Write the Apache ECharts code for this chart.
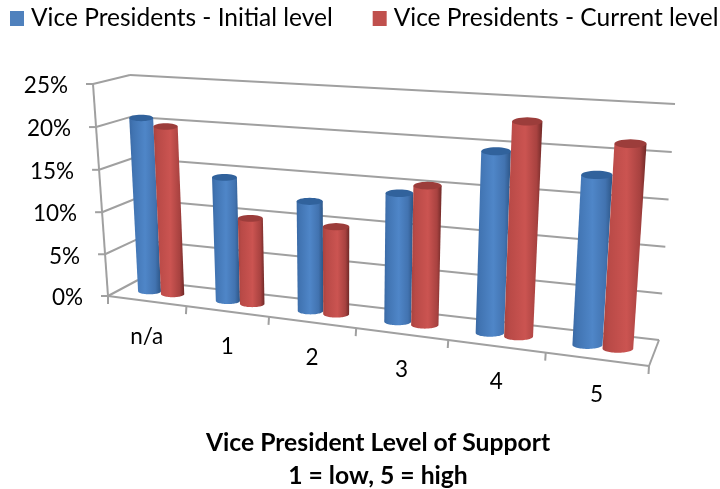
<!DOCTYPE html>
<html>
<head>
<meta charset="utf-8">
<style>html,body{margin:0;padding:0;background:#fff}#chart{width:720px;height:489px}</style>
<script src="https://cdn.jsdelivr.net/npm/echarts@6/dist/echarts.min.js"></script>
</head>
<body>
<div id="chart"></div>
<script>
// Survey results, percent of respondents per support level
const categories = ['n/a', '1', '2', '3', '4', '5'];
const initialLevel = [20.7, 14.5, 12.6, 14.4, 19.8, 18.1];
const currentLevel = [19.9, 10, 10, 15.5, 23.2, 21.6];
const valueTicks = [0, 5, 10, 15, 20, 25];
const valueTickLabels = ['0%', '5%', '10%', '15%', '20%', '25%'];

const FONT = 'Lato, "Open Sans", sans-serif';
const GRID_COLOR = '#a0a0a0';

// Box corners on screen: bottom/top, left/right, back/front
const box = {
  bLB: [138, 280], tLB: [130, 75], bRB: [659, 340], tRB: [675, 104],
  bLF: [108, 296], tLF: [93, 84], bRF: [649, 366], tRF: [666, 122]
};
const PERSP_U = 1.18, PERSP_V = 1.02, BAR_DEPTH = 0.5;
const bend = (t, k) => t / (k - (k - 1) * t);
const mix = (a, b, t) => [a[0] + (b[0] - a[0]) * t, a[1] + (b[1] - a[1]) * t];

// u: along categories, v: up the value axis, w: 0 at the back wall, 1 at the front
function project(u, v, w) {
  const s = bend(u, PERSP_U), h = bend(v, PERSP_V);
  const left = mix(mix(box.bLB, box.bLF, w), mix(box.tLB, box.tLF, w), h);
  const right = mix(mix(box.bRB, box.bRF, w), mix(box.tRB, box.tRF, w), h);
  return mix(left, right, s);
}
// Plot coordinates from the hidden axes are normalised, then projected into the box
function toUV(pt, cs) {
  return [(pt[0] - cs.x) / cs.width, (cs.y + cs.height - pt[1]) / cs.height];
}
const lineEl = (a, b) => ({
  type: 'line', shape: { x1: a[0], y1: a[1], x2: b[0], y2: b[1] },
  style: { stroke: GRID_COLOR, lineWidth: 2 }
});
const textEl = (text, x, y, align) => ({
  type: 'text', x, y,
  style: { text, fill: '#000', font: '22.5px ' + FONT, align, verticalAlign: 'middle' }
});

function renderValueFrame(params, api) {
  const cs = params.coordSys;
  const val = api.value(0);
  const v = toUV(api.coord([0, val]), cs)[1];
  const front = project(0, v, 1), back = project(0, v, 0), right = project(1, v, 0);
  return { type: 'group', children: [
    lineEl(back, right), lineEl(front, back),
    lineEl(front, [front[0] - 7, front[1]]),
    textEl(valueTickLabels[params.dataIndex], front[0] - 25, front[1] + 2, 'right')
  ] };
}

function renderCategoryFrame(params, api) {
  const cs = params.coordSys;
  const i = api.value(0);
  const centre = toUV(api.coord([i, 0]), cs)[0];
  const band = api.size([1, 0])[0] / cs.width;
  const edge = project(centre + band / 2, 0, 1);
  const kids = [textEl(categories[i], project(centre, 0, 1)[0], project(centre, 0, 1)[1] + 35.5, 'center')];
  kids.push(lineEl(edge, [edge[0] - 0.5, edge[1] + 8]));
  if (i === 0) {
    const start = project(0, 0, 1);
    kids.push(lineEl(start, [start[0], start[1] + 8]));
    kids.push(lineEl(start, project(0, 1, 1)));
    kids.push(lineEl(start, project(1, 0, 1)));
    kids.push(lineEl(project(1, 0, 0), project(1, 0, 1)));
  }
  return { type: 'group', children: kids };
}

// Level ellipse through the mean height of its two edge points
function ellipsePoints(l, r, from, to) {
  const cx = (l[0] + r[0]) / 2, cy = (l[1] + r[1]) / 2, ax = (r[0] - l[0]) / 2;
  const ry = ax * 0.27, pts = [];
  for (let k = 0; k <= 32; k++) {
    const a = from + (to - from) * k / 32;
    pts.push([cx + ax * Math.cos(a), cy + ry * Math.sin(a)]);
  }
  return pts;
}

// One cylinder; side is -1 for the left bar of a cluster, +1 for the right
function cylinderRenderer(side, stops, capColor) {
  return function (params, api) {
    const cs = params.coordSys;
    const i = api.value(0), val = api.value(1);
    const base = toUV(api.coord([i, 0]), cs), top = toUV(api.coord([i, val]), cs);
    const band = api.size([1, 0])[0] / cs.width;
    const u = base[0] + side * band * 0.15, r = band * 0.15;
    const bl = project(u - r, base[1], BAR_DEPTH), br = project(u + r, base[1], BAR_DEPTH);
    const tl = project(u - r, top[1], BAR_DEPTH), tr = project(u + r, top[1], BAR_DEPTH);
    const cap = ellipsePoints(tl, tr, 0, Math.PI * 2);
    // outline: top edge left to right, then the lower half of the base ellipse
    const body = [cap[16], cap[0]].concat(ellipsePoints(bl, br, 0, Math.PI));
    return { type: 'group', children: [
      { type: 'polygon', shape: { points: body },
        style: { fill: { type: 'linear', x: 0, y: 0, x2: 1, y2: 0, colorStops: stops } } },
      { type: 'polygon', shape: { points: cap }, style: { fill: capColor } }
    ] };
  };
}

const blueStops = [
  { offset: 0, color: '#3a69a4' }, { offset: 0.12, color: '#4174b2' },
  { offset: 0.5, color: '#4f86c8' }, { offset: 0.82, color: '#4273b0' }, { offset: 1, color: '#2c5586' }
];
const redStops = [
  { offset: 0, color: '#a8433f' }, { offset: 0.14, color: '#b94a47' },
  { offset: 0.55, color: '#cb5451' }, { offset: 0.85, color: '#a84240' }, { offset: 1, color: '#6f2927' }
];

const chart = echarts.init(document.getElementById('chart'));
chart.setOption({
  animation: false,
  backgroundColor: '#fff',
  title: {
    text: 'Vice President Level of Support\n1 = low, 5 = high',
    left: 373, top: 422, textAlign: 'center',
    textStyle: { fontFamily: FONT, fontSize: 24.7, fontWeight: 'bold', color: '#000', lineHeight: 33 }
  },
  legend: {
    data: ['Vice Presidents - Initial level', 'Vice Presidents - Current level'],
    left: 10, top: 6, width: 710, padding: 0, itemWidth: 14, itemHeight: 15, itemGap: 40, icon: 'rect',
    textStyle: { fontFamily: FONT, fontSize: 24.5, color: '#000', padding: [0, 0, 0, 2] }
  },
  grid: { left: 108, top: 75, width: 540, height: 290 },
  xAxis: { type: 'category', data: categories, show: false },
  yAxis: { type: 'value', min: 0, max: 25, interval: 5, show: false },
  series: [
    { type: 'custom', name: 'value frame', data: valueTicks.map(v => [v]), encode: { x: -1, y: 0 }, renderItem: renderValueFrame, z: 1, silent: true },
    { type: 'custom', name: 'category frame', data: categories.map((c, i) => [i]), encode: { x: 0, y: -1 }, renderItem: renderCategoryFrame, z: 1, silent: true },
    { type: 'custom', name: 'Vice Presidents - Initial level', itemStyle: { color: '#4f81bd' },
      data: initialLevel.map((v, i) => [i, v]), encode: { x: 0, y: 1 },
      renderItem: cylinderRenderer(-1, blueStops, '#31629c'), z: 2 },
    { type: 'custom', name: 'Vice Presidents - Current level', itemStyle: { color: '#c0504d' },
      data: currentLevel.map((v, i) => [i, v]), encode: { x: 0, y: 1 },
      renderItem: cylinderRenderer(1, redStops, '#9c3d3b'), z: 3 }
  ]
});
</script>
</body>
</html>
